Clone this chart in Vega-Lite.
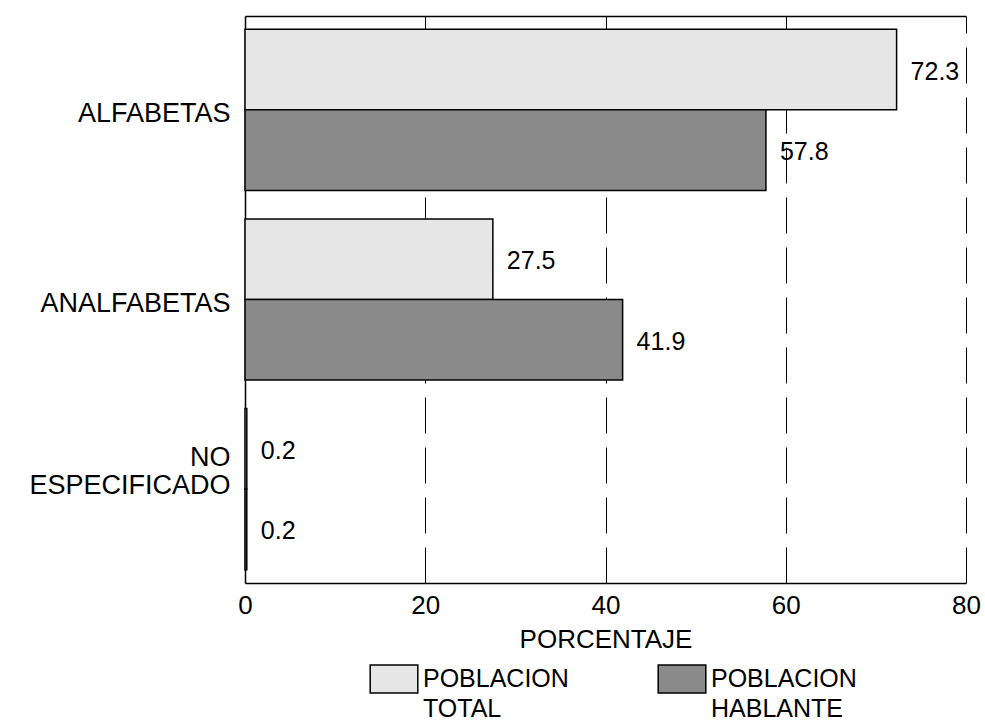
{
  "$schema": "https://vega.github.io/schema/vega-lite/v6.json",
  "width": 721,
  "height": 567,
  "autosize": {"type": "none"},
  "padding": {"left": 245, "top": 16, "right": 19, "bottom": 141},
  "background": "white",
  "config": {
    "view": {"stroke": null},
    "font": "Liberation Sans",
    "text": {"font": "Liberation Sans"}
  },
  "data": {
    "values": [
      {"categoria": "ALFABETAS", "poblacion": "POBLACION TOTAL", "porcentaje": 72.3},
      {"categoria": "ALFABETAS", "poblacion": "POBLACION HABLANTE", "porcentaje": 57.8},
      {"categoria": "ANALFABETAS", "poblacion": "POBLACION TOTAL", "porcentaje": 27.5},
      {"categoria": "ANALFABETAS", "poblacion": "POBLACION HABLANTE", "porcentaje": 41.9},
      {"categoria": "NO ESPECIFICADO", "poblacion": "POBLACION TOTAL", "porcentaje": 0.2},
      {"categoria": "NO ESPECIFICADO", "poblacion": "POBLACION HABLANTE", "porcentaje": 0.2}
    ]
  },
  "encoding": {
    "y": {
      "field": "categoria",
      "type": "nominal",
      "sort": ["ALFABETAS", "ANALFABETAS", "NO ESPECIFICADO"],
      "scale": {"paddingInner": 0.15, "paddingOuter": 0.07},
      "axis": {
        "title": null,
        "ticks": false,
        "domain": true,
        "domainColor": "black",
        "domainWidth": 1.5,
        "labelFontSize": 27,
        "labelColor": "black",
        "labelPadding": 15,
        "labelLimit": 300,
        "labelLineHeight": 28,
        "labelExpr": "datum.value == 'NO ESPECIFICADO' ? ['NO', 'ESPECIFICADO'] : datum.value",
        "labelOffset": {"condition": {"test": "datum.value == 'NO ESPECIFICADO'", "value": -31}, "value": 4}
      }
    },
    "yOffset": {
      "field": "poblacion",
      "type": "nominal",
      "sort": ["POBLACION TOTAL", "POBLACION HABLANTE"],
      "scale": {"paddingInner": 0, "paddingOuter": 0}
    }
  },
  "layer": [
    {
      "mark": {"type": "bar", "stroke": "black", "strokeWidth": 1.5},
      "encoding": {
        "x": {
          "field": "porcentaje",
          "type": "quantitative",
          "scale": {"domain": [0, 80], "nice": false},
          "axis": {
            "orient": "bottom",
            "values": [0, 20, 40, 60, 80],
            "grid": true,
            "gridColor": "black",
            "gridDash": [36, 14],
            "gridWidth": 1,
            "ticks": false,
            "domain": true,
            "domainColor": "black",
            "domainWidth": 1.5,
            "labelFontSize": 26,
            "labelColor": "black",
            "labelPadding": 9,
            "labelFlush": false,
            "title": "PORCENTAJE",
            "titleFontSize": 26,
            "titleFontWeight": "normal",
            "titleColor": "black",
            "titlePadding": 8
          }
        },
        "color": {
          "field": "poblacion",
          "type": "nominal",
          "sort": ["POBLACION TOTAL", "POBLACION HABLANTE"],
          "scale": {
            "domain": ["POBLACION TOTAL", "POBLACION HABLANTE"],
            "range": ["#e6e6e6", "#8a8a8a"]
          },
          "legend": {
            "title": null,
            "orient": "none",
            "legendX": 134,
            "legendY": 648,
            "columns": 2,
            "columnPadding": 86,
            "padding": 0,
            "symbolType": "M-1.7,-1H1.7V1H-1.7Z",
            "symbolSize": 784,
            "symbolStrokeColor": "black",
            "symbolStrokeWidth": 1.5,
            "symbolOpacity": 1,
            "labelFontSize": 25,
            "labelColor": "black",
            "labelOffset": 14,
            "labelLimit": 300,
            "labelExpr": "split(datum.label, ' ')",
            "encode": {
              "labels": {"update": {"lineHeight": {"value": 30}}}
            }
          }
        }
      }
    },
    {
      "mark": {"type": "text", "align": "left", "baseline": "middle", "dx": 14, "dy": 2, "fontSize": 25, "color": "black"},
      "encoding": {
        "x": {
          "field": "porcentaje",
          "type": "quantitative",
          "scale": {"domain": [0, 80], "nice": false},
          "axis": {
            "orient": "top",
            "labels": false,
            "ticks": false,
            "grid": false,
            "domain": true,
            "domainColor": "black",
            "domainWidth": 1.5,
            "title": null
          }
        },
        "text": {"field": "porcentaje", "type": "quantitative", "format": ".1f"}
      }
    }
  ],
  "resolve": {"axis": {"x": "independent"}}
}
